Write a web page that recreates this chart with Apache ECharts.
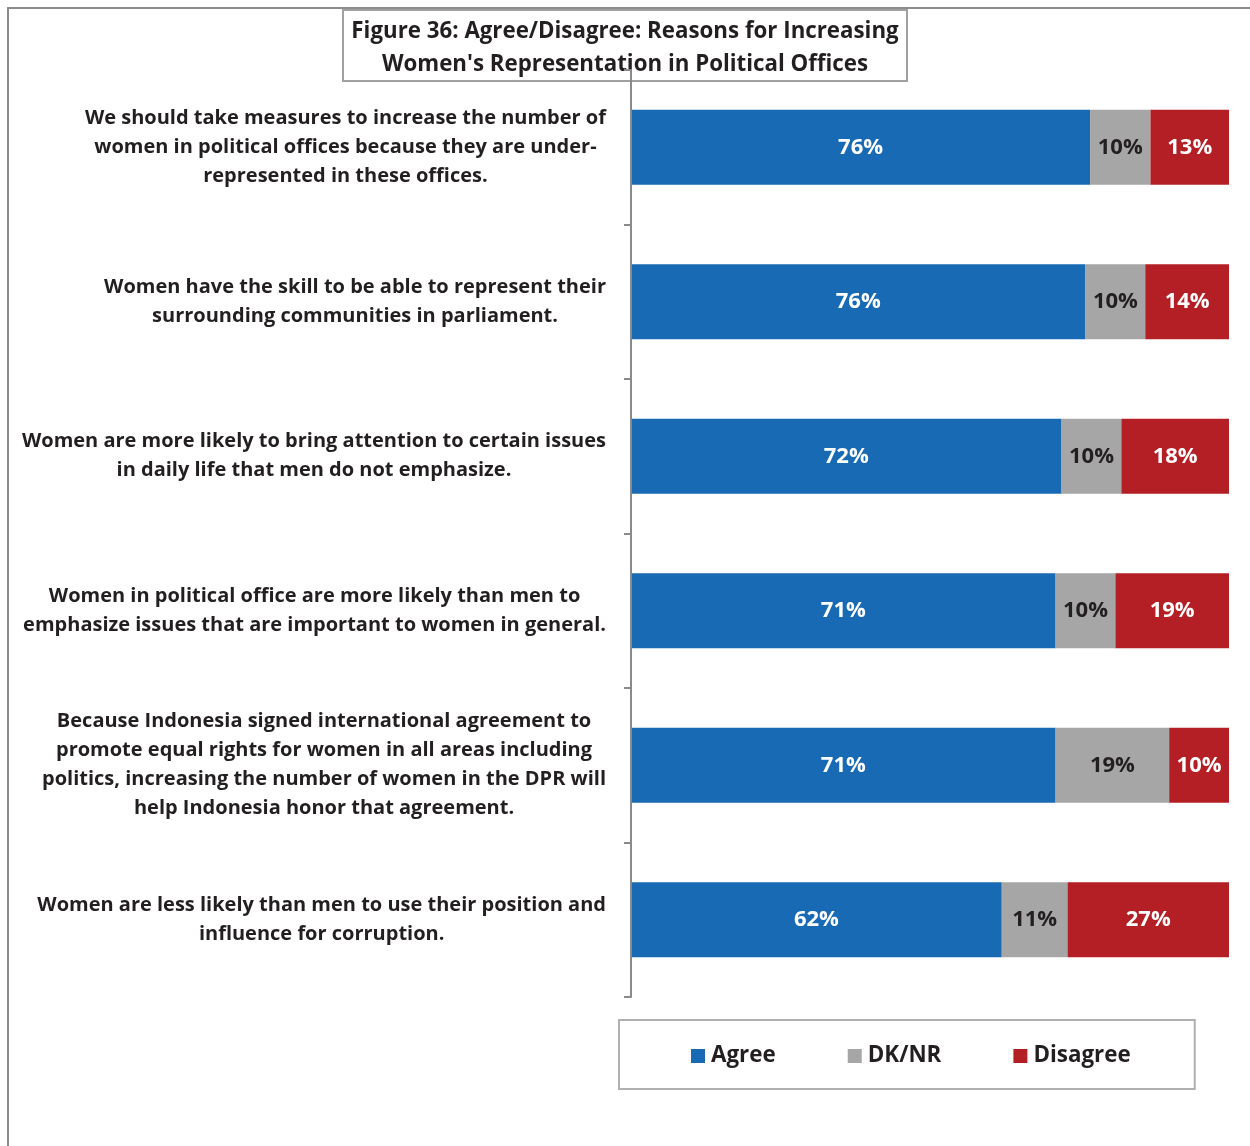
<!DOCTYPE html>
<html>
<head>
<meta charset="utf-8">
<script src="https://cdn.jsdelivr.net/npm/echarts@6/dist/echarts.min.js"></script>
<style>
  html, body { margin: 0; padding: 0; background: #fff; }
  #chart { width: 1250px; height: 1146px; }
</style>
</head>
<body>
<div id="chart"></div>
<script>
// Statements (each line of a wrapped label kept as its own entry)
const statements = [
  ['We should take measures to increase the number of', 'women in political offices because they are under-', 'represented in these offices.'],
  ['Women have the skill to be able to represent their', 'surrounding communities in parliament.'],
  ['Women are more likely to bring attention to certain issues', 'in daily life that men do not emphasize.'],
  ['Women in political office are more likely than men to', 'emphasize issues that are important to women in general.'],
  ['Because Indonesia signed international agreement to', 'promote equal rights for women in all areas including', 'politics, increasing the number of women in the DPR will', 'help Indonesia honor that agreement.'],
  ['Women are less likely than men to use their position and', 'influence for corruption.']
];

// Response shares in percent
const agree    = [76, 76, 72, 71, 71, 62];
const dkNr     = [10, 10, 10, 10, 19, 11];
const disagree = [13, 14, 18, 19, 10, 27];

const seriesNames = ['Agree', 'DK/NR', 'Disagree'];

const titleLines = ['Figure 36: Agree/Disagree: Reasons for Increasing', "Women's Representation in Political Offices"];

const FONT = '"Open Sans", Lato, sans-serif';
const TEXT = '#231f20';

// Each row is drawn as a 100% stacked bar: segment = value / row total
const rowTotals = agree.map((v, i) => v + dkNr[i] + disagree[i]);
const toShare = arr => arr.map((v, i) => v / rowTotals[i] * 100);
const rawBySeries = [agree, dkNr, disagree];

const categories = statements.map(lines => lines.join('\n'));

// Wrap every line in a centred rich token so a multi-line block keeps centred lines
const centredLines = (text, key) => text.split('\n').map(l => '{' + key + '|' + l + '}').join('\n');

function segment(name, idx, color, labelColor) {
  return {
    name: name,
    type: 'bar',
    stack: 'total',
    barWidth: 75,
    data: toShare(rawBySeries[idx]),
    itemStyle: { color: color },
    label: {
      show: true,
      position: 'inside',
      color: labelColor,
      fontFamily: FONT,
      fontWeight: 'bold',
      fontSize: 22,
      formatter: p => rawBySeries[idx][p.dataIndex] + '%'
    },
    emphasis: { disabled: true }
  };
}

const chart = echarts.init(document.getElementById('chart'), null, { renderer: 'canvas' });

chart.setOption({
  animation: false,
  backgroundColor: '#ffffff',
  title: {
    text: centredLines(titleLines.join('\n'), 't'),
    left: 'center',
    top: 4,
    z: 0,
    padding: [11, 9, 6, 9],
    borderColor: '#a0a0a0',
    borderWidth: 2,
    backgroundColor: '#ffffff',
    textStyle: {
      rich: {
        t: {
          align: 'center',
          fontFamily: FONT,
          fontWeight: 'bold',
          fontSize: 22.3,
          lineHeight: 33,
          color: TEXT
        }
      }
    }
  },
  legend: {
    data: seriesNames,
    left: 619,
    top: 1020,
    orient: 'horizontal',
    padding: [25, 64, 22, 72],
    itemGap: 72,
    itemWidth: 14,
    itemHeight: 14,
    icon: 'rect',
    borderColor: '#b0b0b0',
    borderWidth: 2,
    textStyle: {
      fontFamily: FONT,
      fontWeight: 'bold',
      fontSize: 22.4,
      color: TEXT,
      padding: [0, 0, 0, 1]
    }
  },
  grid: {
    left: 631,
    right: 21,
    top: 70,
    bottom: 149,
    containLabel: false
  },
  xAxis: {
    type: 'value',
    min: 0,
    max: 100,
    show: false
  },
  yAxis: {
    type: 'category',
    inverse: true,
    data: categories,
    z: 10,
    axisLine: { show: true, lineStyle: { color: '#8a8a8a', width: 2 } },
    axisTick: { show: true, length: 7, lineStyle: { color: '#8a8a8a', width: 2 } },
    axisLabel: {
      margin: 25,
      align: 'right',
      formatter: v => centredLines(v, 'c'),
      rich: {
        c: {
          align: 'center',
          fontFamily: FONT,
          fontWeight: 'bold',
          fontSize: 20,
          lineHeight: 29,
          color: TEXT
        }
      }
    }
  },
  graphic: [
    {
      type: 'rect',
      silent: true,
      z: -10,
      shape: { x: 8, y: 8, width: 1400, height: 1400 },
      style: { fill: null, stroke: '#8c8c8c', lineWidth: 2 }
    }
  ],
  series: [
    segment(seriesNames[0], 0, '#186ab4', '#ffffff'),
    segment(seriesNames[1], 1, '#a6a6a6', TEXT),
    segment(seriesNames[2], 2, '#b41f25', '#ffffff')
  ]
});
</script>
</body>
</html>
